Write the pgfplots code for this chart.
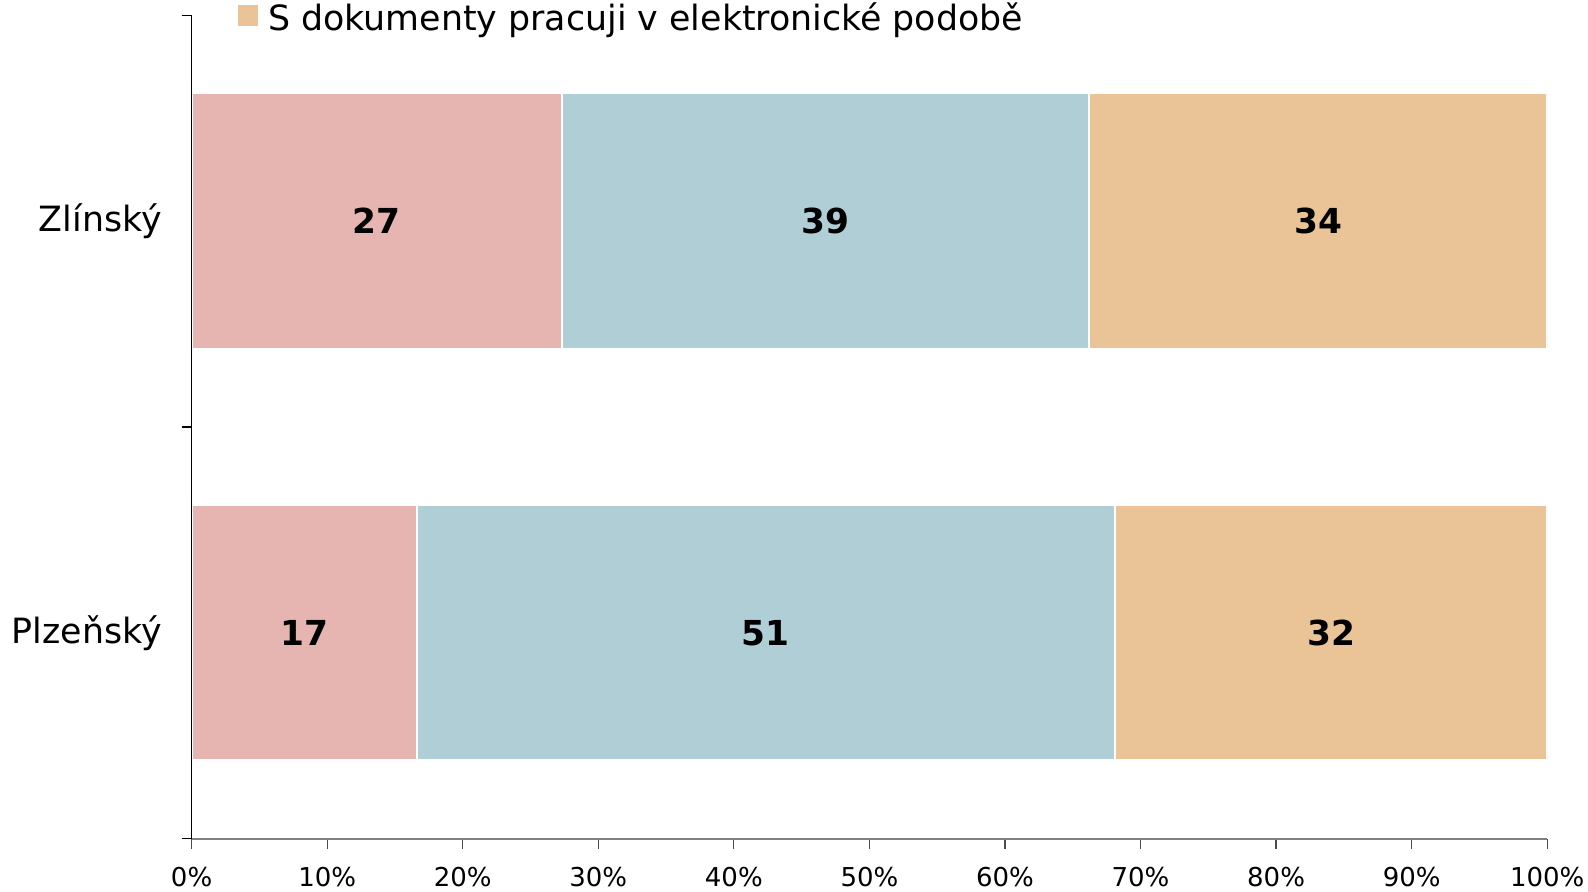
\documentclass[border=0pt]{standalone}
\usepackage{fontspec}
\setmainfont{DejaVu Sans}
\usepackage{pgfplots}
\usepackage{pgfplotstable}
\pgfplotsset{compat=1.18}
\definecolor{cA}{RGB}{230,181,177}
\definecolor{cB}{RGB}{176,206,214}
\definecolor{cC}{RGB}{234,196,151}
\pgfplotstableread{
y v lab
0 16.6 17
1 27.3 27
}\serA
\pgfplotstableread{
y v lab
0 51.5 51
1 38.9 39
}\serB
\pgfplotstableread{
y v lab
0 31.9 32
1 33.8 34
}\serC
\begin{document}
\begin{tikzpicture}
\useasboundingbox (-95.8pt,-26.2pt) rectangle (698.2pt,419.3pt);
\begin{axis}[
  at={(0pt,0pt)}, anchor=south west,
  scale only axis, width=677.8pt, height=411.7pt,
  xbar stacked, bar width=127.6pt,
  axis on top,
  xmin=0, xmax=100, ymin=-0.5, ymax=1.5,
  axis x line*=bottom, axis y line*=left,
  x axis line style={draw={rgb,255:red,128;green,128;blue,128}, line width=0.9pt},
  y axis line style={draw=black, line width=0.6pt},
  tick align=outside,
  major tick length=5pt,
  xtick={0,10,...,100},
  xticklabel={\pgfmathprintnumber{\tick}\%},
  /pgf/number format/assume math mode=true,
  x tick style={draw=black!70, line width=0.6pt},
  y tick style={draw=black, line width=0.6pt},
  xticklabel style={font=\fontsize{13}{15}\selectfont, yshift=-6pt},
  ytick={-0.5,0.5,1.5},
  yticklabels={},
  extra y ticks={0,1},
  extra y tick labels={Plzeňský,Zlínský},
  extra y tick style={major tick length=0pt, tick style={draw=none},
    yticklabel style={font=\fontsize{17.4}{20}\selectfont, inner sep=0pt, xshift=-14.7pt}},
  legend style={at={(axis description cs:0,1)}, anchor=south west, xshift=23pt, yshift=-9pt,
    draw=none, fill=none, inner sep=0pt, outer sep=0pt, column sep=5pt,
    nodes={inner sep=0pt}, font=\fontsize{17.4}{20}\selectfont},
  legend image code/.code={\fill[#1] (0pt,-4.1pt) rectangle (10.3pt,6.2pt);},
  nodes near coords,
  point meta=explicit symbolic,
  every node near coord/.style={anchor=center, font=\fontsize{17.2}{20}\selectfont\bfseries, text=black},
]
\addlegendimage{fill=cC, draw=none}
\addlegendentry{S dokumenty pracuji v elektronické podobě}
\addplot[fill=cA, draw=white, line width=1pt, forget plot] table[x=v, y=y, meta=lab] {\serA};
\addplot[fill=cB, draw=white, line width=1pt, forget plot] table[x=v, y=y, meta=lab] {\serB};
\addplot[fill=cC, draw=white, line width=1pt, forget plot] table[x=v, y=y, meta=lab] {\serC};
\end{axis}
\end{tikzpicture}
\end{document}
